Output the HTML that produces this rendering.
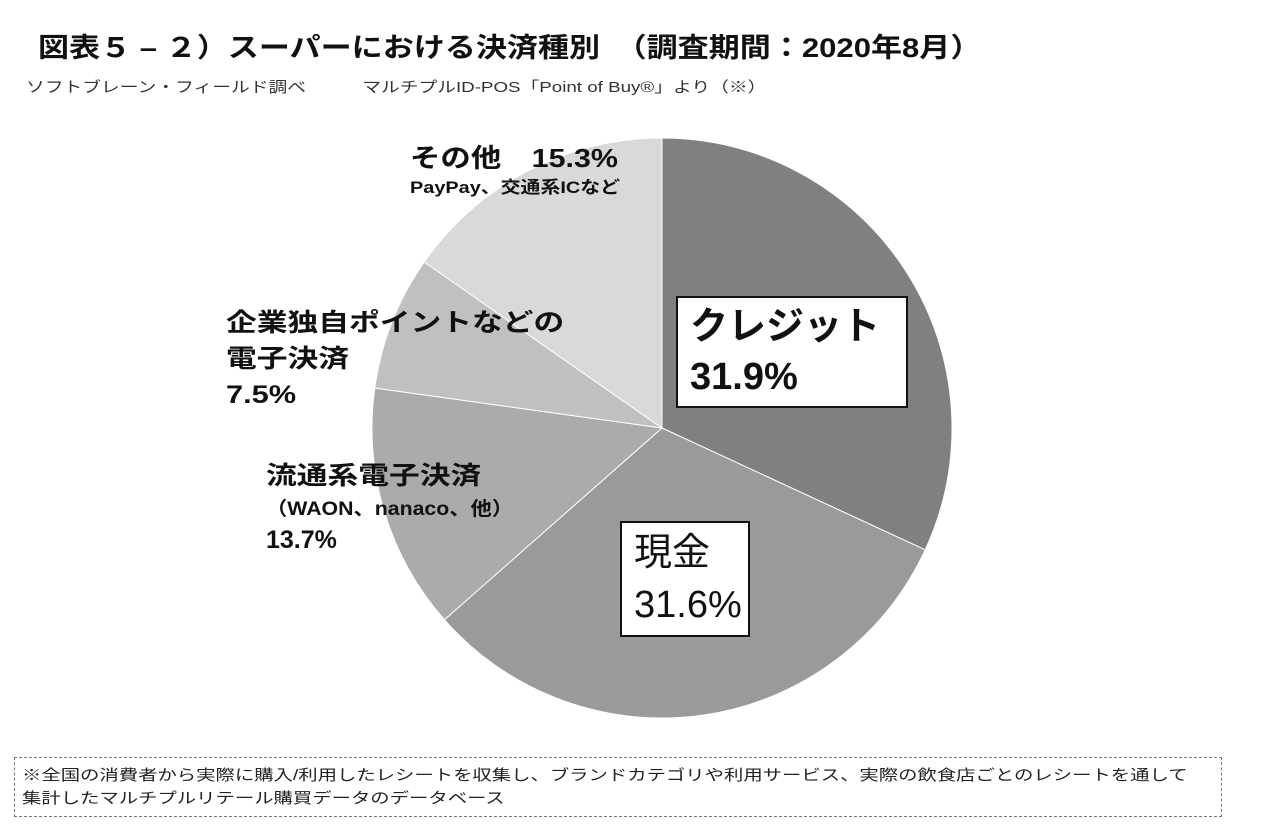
<!DOCTYPE html>
<html><head><meta charset="utf-8">
<style>
body{margin:0;background:#fff;width:1286px;height:832px;overflow:hidden;font-family:"Liberation Sans","Noto Sans CJK JP",sans-serif;}
.t{position:absolute;white-space:nowrap;color:#111;transform-origin:0 0;}
</style></head>
<body>
<div class="t" style="left:38px;top:26px;font-size:27px;font-weight:bold;transform:scaleX(1.15);">図表５ – ２）スーパーにおける決済種別　（調査期間：2020年8月）</div>
<div class="t" style="left:26px;top:76px;font-size:15px;color:#333;transform:scaleX(1.25);">ソフトブレーン・フィールド調べ　　　マルチプルID-POS「Point of Buy®」より（※）</div>
<svg id="pie" width="1286" height="832" style="position:absolute;left:0;top:0"></svg>
<div class="t" style="left:410px;top:138px;font-size:26px;font-weight:bold;transform:scaleX(1.17);">その他　15.3%</div>
<div class="t" style="left:410px;top:173px;font-size:17px;font-weight:bold;transform:scaleX(1.17);">PayPay、交通系ICなど</div>
<div class="t" style="left:226px;top:305px;font-size:25px;font-weight:bold;line-height:36px;transform:scaleX(1.23);">企業独自ポイントなどの<br>電子決済<br>7.5%</div>
<div class="t" style="left:266px;top:456px;font-size:25px;font-weight:bold;transform:scaleX(1.23);">流通系電子決済</div>
<div class="t" style="left:266px;top:494px;font-size:19px;font-weight:bold;transform:scaleX(1.12);">（WAON、nanaco、他）</div>
<div class="t" style="left:266px;top:526px;font-size:25px;font-weight:bold;">13.7%</div>
<div class="t" style="left:676px;top:296px;width:232px;height:112px;background:#fff;border:2px solid #111;box-sizing:border-box;padding:4px 0 0 12px;font-size:38px;font-weight:bold;line-height:50px;">クレジット<br>31.9%</div>
<div class="t" style="left:620px;top:521px;width:130px;height:116px;background:#fff;border:2px solid #111;box-sizing:border-box;padding:4px 0 0 12px;font-size:38px;line-height:52px;">現金<br>31.6%</div>
<div style="position:absolute;left:14px;top:757px;width:1208px;height:60px;border:1px dashed #777;box-sizing:border-box;"></div>
<div class="t" style="left:22px;top:764px;font-size:15px;line-height:23px;color:#222;transform:scaleX(1.29);">※全国の消費者から実際に購入/利用したレシートを収集し、ブランドカテゴリや利用サービス、実際の飲食店ごとのレシートを通して<br>集計したマルチプルリテール購買データのデータベース</div>
<script>
const categories=["クレジット","現金","流通系電子決済","企業独自ポイントなどの電子決済","その他"];
const values=[31.9,31.6,13.7,7.5,15.3];
const colors=["#808080","#9a9a9a","#ababab","#c0c0c0","#d9d9d9"];
const svg=document.getElementById('pie');
const cx=662,cy=428,r=290;
const total=values.reduce((a,b)=>a+b,0);
let a0=0;
function pt(a){return [cx+r*Math.sin(a),cy-r*Math.cos(a)];}
values.forEach((v,i)=>{
  const a1=a0+v/total*2*Math.PI;
  const p0=pt(a0),p1=pt(a1);
  const large=(a1-a0)>Math.PI?1:0;
  const p=document.createElementNS('http://www.w3.org/2000/svg','path');
  p.setAttribute('d',`M${cx},${cy}L${p0[0]},${p0[1]}A${r},${r} 0 ${large} 1 ${p1[0]},${p1[1]}Z`);
  p.setAttribute('fill',colors[i]);
  p.setAttribute('stroke','#fff');
  p.setAttribute('stroke-width','1');
  
  
  svg.appendChild(p);
  a0=a1;
});
</script>
</body></html>
